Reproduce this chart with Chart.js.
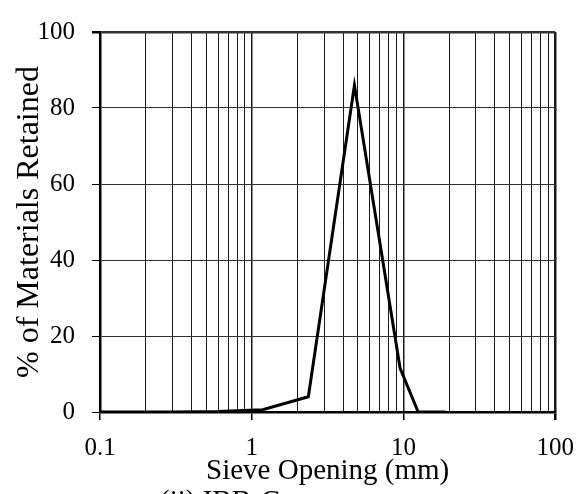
<!DOCTYPE html>
<html>
<head>
<meta charset="utf-8">
<title>Sieve analysis</title>
<script src="https://cdn.jsdelivr.net/npm/chart.js@4.4.1/dist/chart.umd.min.js"></script>
<style>
    html, body { margin: 0; padding: 0; background: #fff; }
    #wrap { width: 587px; height: 494px; }
</style>
</head>
<body>
<div id="wrap"><canvas id="sieveChart" width="587" height="494"></canvas></div>
<script>
// sieve openings (mm) and % retained
var sieveSizes = [0.075, 0.15, 0.3, 0.6, 1.18, 2.36, 4.75, 9.5, 12.5, 19];
var retained = [0, 0, 0, 0.1, 0.6, 4, 86, 11.5, 0, 0];

// log grid: every 1..9 step of each decade, labels only on decades
var xGridValues = [0.1, 0.2, 0.3, 0.4, 0.5, 0.6, 0.7, 0.8, 0.9,
    1, 2, 3, 4, 5, 6, 7, 8, 9,
    10, 20, 30, 40, 50, 60, 70, 80, 90, 100];
var xTickLabels = [0.1, 1, 10, 100];
var yTicks = [0, 20, 40, 60, 80, 100];

var captionText = '(ii) IBB-C';
var serif = "'Liberation Serif', 'Times New Roman', serif";

document.addEventListener('DOMContentLoaded', function () {
    var points = sieveSizes.map(function (s, i) {
        return { x: s, y: retained[i] };
    });

    // the cut-off caption under the axis title
    var captionPlugin = {
        id: 'caption',
        afterDraw: function (chart) {
            var ctx = chart.ctx;
            ctx.save();
            ctx.font = '29px ' + serif;
            ctx.fillStyle = '#000';
            ctx.textBaseline = 'alphabetic';
            ctx.textAlign = 'left';
            ctx.fillText(captionText, 160, 510);
            ctx.restore();
        }
    };

    var ctx = document.getElementById('sieveChart').getContext('2d');
    var sieveChart = new Chart(ctx, {
        type: 'line',
        data: {
            datasets: [{
                label: '% Retained',
                data: points,
                borderColor: '#000',
                borderWidth: 3,
                pointRadius: 0,
                tension: 0,
                fill: false
            }]
        },
        options: {
            responsive: false,
            animation: false,
            layout: { padding: { left: 0, right: 30, top: 20, bottom: 0 } },
            plugins: {
                legend: { display: false },
                tooltip: { enabled: false }
            },
            scales: {
                x: {
                    type: 'logarithmic',
                    min: 0.1,
                    max: 100,
                    afterBuildTicks: function (scale) {
                        scale.ticks = xGridValues.map(function (v) {
                            return { value: v, major: xTickLabels.indexOf(v) !== -1 };
                        });
                    },
                    afterFit: function (scale) { scale.height = 82; },
                    ticks: {
                        autoSkip: false,
                        maxRotation: 0,
                        padding: 13,
                        color: '#000',
                        font: { family: serif, size: 25 },
                        callback: function (value) {
                            return xTickLabels.indexOf(value) !== -1 ? String(value) : '';
                        }
                    },
                    grid: {
                        color: '#1a1a1a',
                        lineWidth: function (c) {
                            if (c.tick && c.tick.value === 100) return 2.5;
                            return c.tick && c.tick.major ? 1.5 : 1;
                        },
                        tickLength: 8,
                        tickColor: function (c) {
                            return c.tick && c.tick.major ? '#000' : 'rgba(0,0,0,0)';
                        }
                    },
                    border: { display: true, color: '#000', width: 2.5 },
                    title: {
                        display: true,
                        text: 'Sieve Opening (mm)',
                        color: '#000',
                        font: { family: serif, size: 29, lineHeight: 1 },
                        padding: { top: 0, bottom: 8 }
                    }
                },
                y: {
                    min: 0,
                    max: 100,
                    afterBuildTicks: function (scale) {
                        scale.ticks = yTicks.map(function (v) { return { value: v }; });
                    },
                    afterFit: function (scale) { scale.width = 100; },
                    ticks: {
                        padding: 17,
                        color: '#000',
                        font: { family: serif, size: 25 }
                    },
                    grid: {
                        color: '#333',
                        lineWidth: function (c) {
                            return c.tick && c.tick.value === 100 ? 2.5 : 1;
                        },
                        tickLength: 8,
                        tickColor: '#000'
                    },
                    border: { display: true, color: '#000', width: 2.5 },
                    title: {
                        display: true,
                        text: '% of Materials Retained',
                        color: '#000',
                        font: { family: serif, size: 32, lineHeight: 1 },
                        padding: { top: 14, bottom: 0 }
                    }
                }
            }
        },
        plugins: [captionPlugin]
    });
});
</script>
</body>
</html>
